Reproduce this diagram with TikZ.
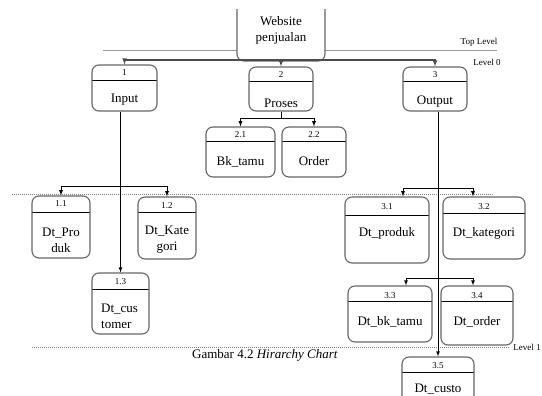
\documentclass[tikz,border=0pt]{standalone}
\usepackage{fontspec}
\setmainfont{Liberation Serif}
\tikzset{
  procbox/.style={draw=black!60, line width=1.1pt, rounded corners=7pt, fill=white, inner sep=0pt},
  withhead/.style={path picture={\draw[black, line width=0.8pt] ([yshift=-#1]path picture bounding box.north west) -- ([yshift=-#1]path picture bounding box.north east);}},
  num/.style={font=\fontsize{9}{10}\selectfont, inner sep=0pt},
  lbl/.style={font=\fontsize{13}{16}\selectfont, align=center, inner sep=0pt},
  lvltxt/.style={font=\fontsize{9}{10}\selectfont, inner sep=0pt},
  lvldot/.style={densely dotted, gray, line width=1pt},
  conn0/.style={black!70, line width=1.1pt},
  conn/.style={black, line width=0.8pt},
}
\begin{document}
\begin{tikzpicture}[x=1pt,y=1pt,yscale=-1,>=latex]
    \clip (0,0) rectangle (542,396);
    \fill[white] (0,0) rectangle (542,396);
    % Level lines
    \draw[gray!80, line width=1pt] (103,51) -- (497,51);
    \draw[lvldot] (12,195) -- (493,195);
    \draw[lvldot] (32,347) -- (510,347);
    % Top box (cut at top)
    \begin{scope}
      \clip (0,10) rectangle (542,396);
      \node[procbox, minimum width=88pt, minimum height=90pt] (web) at (281,16) {};
    \end{scope}
    \node[lbl] (webtxt) at (281,30) {Website\\penjualan};
    % Rounded Rect : level 0
    \node[procbox, withhead=15pt, minimum width=65pt, minimum height=46pt] (b1) at (124.5,88) {};
    \node[procbox, withhead=14pt, minimum width=64pt, minimum height=44pt] (b2) at (281,89) {};
    \node[procbox, withhead=14pt, minimum width=64pt, minimum height=44pt] (b3) at (435,89) {};
    % Rounded Rect : under Proses
    \node[procbox, withhead=14pt, minimum width=69pt, minimum height=50pt] (b21) at (240.5,152) {};
    \node[procbox, withhead=14pt, minimum width=64pt, minimum height=50pt] (b22) at (314,152) {};
    % Rounded Rect : under Input
    \node[procbox, withhead=16pt, minimum width=58pt, minimum height=62pt] (b11) at (61,227) {};
    \node[procbox, withhead=15pt, minimum width=58pt, minimum height=62pt] (b12) at (167,228) {};
    \node[procbox, withhead=16pt, minimum width=57pt, minimum height=61pt] (b13) at (120.5,303.5) {};
    % Rounded Rect : under Output
    \node[procbox, withhead=18pt, minimum width=84pt, minimum height=66pt] (b31) at (387,230) {};
    \node[procbox, withhead=16pt, minimum width=82pt, minimum height=62pt] (b32) at (484,228) {};
    \node[procbox, withhead=15pt, minimum width=84pt, minimum height=56pt] (b33) at (390,314) {};
    \node[procbox, withhead=15pt, minimum width=72pt, minimum height=59pt] (b34) at (477,315.5) {};
    \node[procbox, withhead=15pt, minimum width=72pt, minimum height=60pt] (b35) at (438,387) {};
    % Text Node : numbers
    \node[num] (n1) at ([yshift=8pt]b1.north) {1};
    \node[num] (n2) at ([yshift=8pt]b2.north) {2};
    \node[num] (n3) at ([yshift=8pt]b3.north) {3};
    \node[num] (n21) at ([yshift=8pt]b21.north) {2.1};
    \node[num] (n22) at ([yshift=8pt]b22.north) {2.2};
    \node[num] (n11) at ([yshift=8.5pt]b11.north) {1.1};
    \node[num] (n12) at ([yshift=9pt]b12.north) {1.2};
    \node[num] (n13) at ([yshift=9pt]b13.north) {1.3};
    \node[num] (n31) at ([yshift=10pt]b31.north) {3.1};
    \node[num] (n32) at ([yshift=10pt]b32.north) {3.2};
    \node[num] (n33) at ([yshift=10pt]b33.north) {3.3};
    \node[num] (n34) at ([yshift=10pt]b34.north) {3.4};
    \node[num] (n35) at ([yshift=9pt]b35.north) {3.5};
    % Text Node : names
    \node[lbl] (t1) at (124.5,100) {Input};
    \node[lbl] (t2) at (281,103) {Proses};
    \node[lbl] (t3) at (435,102) {Output};
    \node[lbl] (t21) at (240.5,162) {Bk\_tamu};
    \node[lbl] (t22) at (314,161) {Order};
    \node[lbl] (t11) at (61,240) {Dt\_Pro\\duk};
    \node[lbl] (t12) at (167,240) {Dt\_Kate\\gori};
    \node[lbl, align=left, anchor=west] (t13) at (101,316) {Dt\_cus\\tomer};
    \node[lbl] (t31) at (387,233) {Dt\_produk};
    \node[lbl] (t32) at (484,233) {Dt\_kategori};
    \node[lbl] (t33) at (390,322) {Dt\_bk\_tamu};
    \node[lbl] (t34) at (477,322) {Dt\_order};
    \node[lbl] (t35) at (438,389) {Dt\_custo};
    % Text Node : levels and caption
    \node[lvltxt] (toplvl) at (479,42) {Top Level};
    \node[lvltxt] (lvl0) at (487,62) {Level 0};
    \node[lvltxt] (lvl1) at (527,347) {Level 1};
    \node[lbl] (capt) at (265,355) {Gambar 4.2 \textit{Hirarchy Chart}};
    % Connectors : level 0
    \coordinate (j0) at (281,60);
    \draw[conn0,->] (j0) -| (b1.north);
    \draw[conn0,->] (j0) -| (b3.north);
    \draw[conn0,->] (web.south) -- (web.south |- b2.north);
    % Connectors : Proses
    \coordinate (j2) at (281,118);
    \draw[conn] (b2.south) -- (j2);
    \draw[conn,->] (j2) -| (b21.north);
    \draw[conn,->] (j2) -| (b22.north);
    % Connectors : Input
    \coordinate (j1) at (120.5,186);
    \draw[conn,->] (b1.south -| b13.north) -- (b13.north);
    \draw[conn,->] (j1) -| (b11.north);
    \draw[conn,->] (j1) -| (b12.north);
    % Connectors : Output
    \coordinate (j3) at (438,188);
    \coordinate (j4) at (438,278);
    \draw[conn,->] (b3.south -| b35.north) -- (b35.north);
    \draw[conn,->] (j3) -| ([xshift=16pt]b31.north);
    \draw[conn,->] (j3) -| ([xshift=-11pt]b32.north);
    \draw[conn,->] (j4) -| ([xshift=16pt]b33.north);
    \draw[conn,->] (j4) -| ([xshift=-4pt]b34.north);
\end{tikzpicture}
\end{document}
